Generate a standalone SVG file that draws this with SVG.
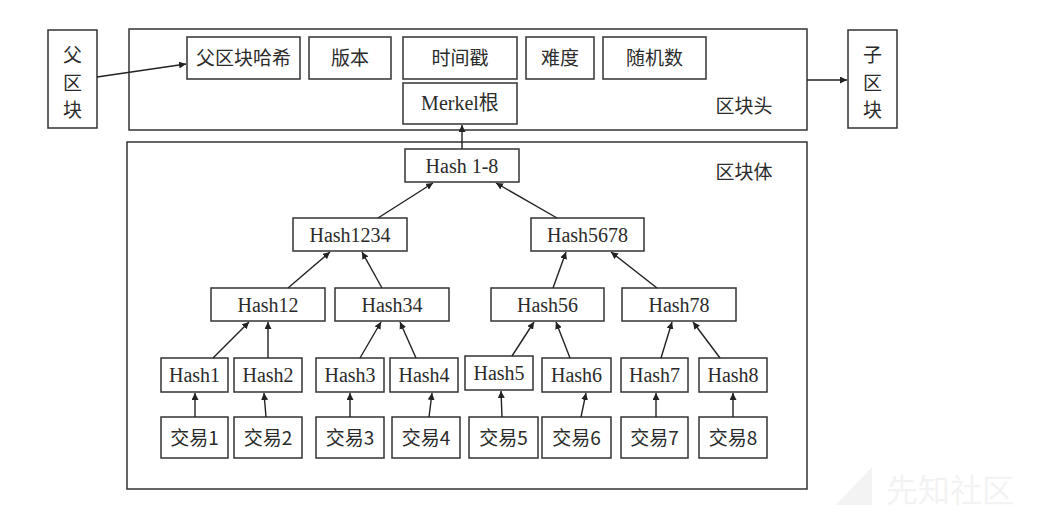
<svg xmlns="http://www.w3.org/2000/svg" width="1040" height="516" viewBox="0 0 1040 516">
<style>
.b{fill:#fff;stroke:#333;stroke-width:1.5}
.o{fill:none;stroke:#333;stroke-width:1.5}
.t{font-family:"Liberation Serif","Noto Sans CJK SC",serif;font-size:20px;fill:#2b2b2b;text-anchor:middle}
.c{font-family:"Noto Sans CJK SC","Liberation Serif",serif;font-size:19px;fill:#2b2b2b;text-anchor:middle}
.l{fill:none;stroke:#222;stroke-width:1.4;marker-end:url(#ah)}
.wm{font-family:"Noto Sans CJK SC",sans-serif;font-size:32px;fill:#f3f3f3}
</style>
<defs>
<marker id="ah" viewBox="0 0 10 10" refX="10" refY="5" markerWidth="7" markerHeight="7" markerUnits="userSpaceOnUse" orient="auto">
<path d="M0,0 L10,5 L0,10 z" fill="#222"/>
</marker>
</defs>
<rect width="1040" height="516" fill="#fff"/>
<g id="watermark">
<polygon points="836,505 872,467 872,505" fill="#f3f3f3"/>
<text class="wm" x="886" y="502">先知社区</text>
</g>
<g id="header">
<rect class="o" x="129" y="29" width="678" height="101"/>
<text class="c" x="744" y="113">区块头</text>
</g>
<g id="body">
<rect class="o" x="127" y="142" width="680" height="347"/>
<text class="c" x="744" y="179">区块体</text>
</g>
<g id="parent"><rect class="b" x="48" y="30" width="49" height="98"/>
<text class="c" x="72.5" y="62">父</text><text class="c" x="72.5" y="90">区</text><text class="c" x="72.5" y="117">块</text></g>
<g id="child"><rect class="b" x="848" y="30" width="49" height="98"/>
<text class="c" x="872.5" y="62">子</text><text class="c" x="872.5" y="90">区</text><text class="c" x="872.5" y="117">块</text></g>
<g id="prevhash"><rect class="b" x="187" y="37" width="113" height="42"/><text class="c" x="243.5" y="64.5">父区块哈希</text></g>
<g id="version"><rect class="b" x="309" y="37" width="82" height="42"/><text class="c" x="350" y="64.5">版本</text></g>
<g id="timestamp"><rect class="b" x="403" y="37" width="114" height="42"/><text class="c" x="460" y="64.5">时间戳</text></g>
<g id="difficulty"><rect class="b" x="526" y="37" width="68" height="42"/><text class="c" x="560" y="64.5">难度</text></g>
<g id="nonce"><rect class="b" x="603" y="37" width="103" height="42"/><text class="c" x="654.5" y="64.5">随机数</text></g>
<g id="merkle"><rect class="b" x="403" y="83" width="114" height="41"/><text class="t" x="460" y="110">Merkel根</text></g>
<g id="h18"><rect class="b" x="405" y="149" width="114" height="33"/><text class="t" x="462" y="172.5">Hash 1-8</text></g>
<g id="h1234"><rect class="b" x="293" y="218" width="114" height="33"/><text class="t" x="350" y="241.5">Hash1234</text></g>
<g id="h5678"><rect class="b" x="531" y="218" width="113" height="33"/><text class="t" x="587.5" y="241.5">Hash5678</text></g>
<g id="h12"><rect class="b" x="211" y="288" width="114" height="33"/><text class="t" x="268" y="311.5">Hash12</text></g>
<g id="h34"><rect class="b" x="335" y="288" width="114" height="33"/><text class="t" x="392" y="311.5">Hash34</text></g>
<g id="h56"><rect class="b" x="491" y="288" width="113" height="33"/><text class="t" x="547.5" y="311.5">Hash56</text></g>
<g id="h78"><rect class="b" x="622" y="288" width="114" height="33"/><text class="t" x="679" y="311.5">Hash78</text></g>
<g id="h1"><rect class="b" x="161" y="358" width="67" height="34"/><text class="t" x="194.5" y="382">Hash1</text></g>
<g id="h2"><rect class="b" x="234" y="358" width="68" height="34"/><text class="t" x="268" y="382">Hash2</text></g>
<g id="h3"><rect class="b" x="316" y="358" width="68" height="34"/><text class="t" x="350" y="382">Hash3</text></g>
<g id="h4"><rect class="b" x="390" y="358" width="68" height="34"/><text class="t" x="424" y="382">Hash4</text></g>
<g id="h5"><rect class="b" x="465" y="356" width="68" height="34"/><text class="t" x="499" y="380">Hash5</text></g>
<g id="h6"><rect class="b" x="542" y="358" width="69" height="34"/><text class="t" x="576.5" y="382">Hash6</text></g>
<g id="h7"><rect class="b" x="621" y="358" width="67" height="34"/><text class="t" x="654.5" y="382">Hash7</text></g>
<g id="h8"><rect class="b" x="699" y="358" width="68" height="34"/><text class="t" x="733" y="382">Hash8</text></g>
<g id="tx1"><rect class="b" x="161" y="417" width="67" height="41"/><text class="c" x="194.5" y="444.5">交易1</text></g>
<g id="tx2"><rect class="b" x="234" y="417" width="68" height="41"/><text class="c" x="268" y="444.5">交易2</text></g>
<g id="tx3"><rect class="b" x="316" y="417" width="68" height="41"/><text class="c" x="350" y="444.5">交易3</text></g>
<g id="tx4"><rect class="b" x="392" y="417" width="68" height="41"/><text class="c" x="426" y="444.5">交易4</text></g>
<g id="tx5"><rect class="b" x="469" y="417" width="69" height="41"/><text class="c" x="503.5" y="444.5">交易5</text></g>
<g id="tx6"><rect class="b" x="542" y="417" width="69" height="41"/><text class="c" x="576.5" y="444.5">交易6</text></g>
<g id="tx7"><rect class="b" x="621" y="417" width="67" height="41"/><text class="c" x="654.5" y="444.5">交易7</text></g>
<g id="tx8"><rect class="b" x="699" y="417" width="68" height="41"/><text class="c" x="733" y="444.5">交易8</text></g>
<g id="connectors">
<line class="l" x1="97" y1="77" x2="186" y2="64"/>
<line class="l" x1="807" y1="80" x2="847" y2="80"/>
<line class="l" x1="462" y1="149" x2="462" y2="125"/>
<line class="l" x1="378" y1="218" x2="433" y2="183"/>
<line class="l" x1="557" y1="218" x2="496" y2="183"/>
<line class="l" x1="288" y1="288" x2="330" y2="252"/>
<line class="l" x1="382" y1="288" x2="362" y2="252"/>
<line class="l" x1="553" y1="288" x2="566" y2="252"/>
<line class="l" x1="657" y1="288" x2="611" y2="252"/>
<line class="l" x1="213" y1="358" x2="249" y2="322"/>
<line class="l" x1="268" y1="358" x2="268" y2="322"/>
<line class="l" x1="360" y1="358" x2="381" y2="322"/>
<line class="l" x1="416" y1="358" x2="400" y2="322"/>
<line class="l" x1="512" y1="356" x2="534" y2="322"/>
<line class="l" x1="570" y1="358" x2="556" y2="322"/>
<line class="l" x1="661" y1="358" x2="672" y2="322"/>
<line class="l" x1="720" y1="358" x2="693" y2="322"/>
<line class="l" x1="195" y1="417" x2="195" y2="393"/>
<line class="l" x1="266" y1="417" x2="264" y2="393"/>
<line class="l" x1="350" y1="417" x2="350" y2="393"/>
<line class="l" x1="429" y1="417" x2="432" y2="393"/>
<line class="l" x1="502" y1="417" x2="501" y2="391"/>
<line class="l" x1="581" y1="417" x2="586" y2="393"/>
<line class="l" x1="656" y1="417" x2="656" y2="393"/>
<line class="l" x1="733" y1="417" x2="733" y2="393"/>
</g>
</svg>
